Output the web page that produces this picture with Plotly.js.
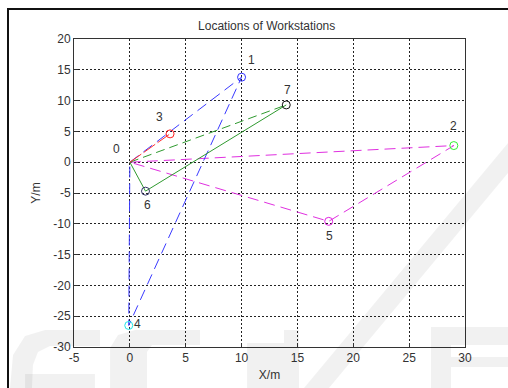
<!DOCTYPE html>
<html>
<head>
<meta charset="utf-8">
<script src="https://cdn.plot.ly/plotly-3.0.1.min.js"></script>
<style>
  html, body { margin: 0; padding: 0; background: #fff; }
  #wrap { position: relative; width: 508px; height: 388px; overflow: hidden; }
  #chart { position: absolute; left: 0; top: 0; width: 508px; height: 388px; }
  #frame { position: absolute; left: 7px; top: 8px; width: 600px; height: 500px;
           border-left: 2px solid #111; border-top: 2px solid #111; pointer-events: none; }
</style>
</head>
<body>
<div id="wrap">
  <div id="chart"></div>
  <div id="frame"></div>
</div>
<script>
// Workstation data (index = station number)
const stationNames = ['0', '1', '2', '3', '4', '5', '6', '7'];
const stationX = [0, 10, 29, 3.6, -0.1, 17.8, 1.4, 14];
const stationY = [0, 13.8, 2.7, 4.6, -26.5, -9.6, -4.7, 9.3];

// Routes (sequences of station indices)
const routeBlue = [0, 1, 4, 0];
const routeRed = [0, 3];
const routeGreenDashed = [0, 7];
const routeGreenSolid = [0, 6, 7];
const routeMagenta = [0, 2, 5, 0];

const xTicks = [-5, 0, 5, 10, 15, 20, 25, 30];
const yTicks = [-30, -25, -20, -15, -10, -5, 0, 5, 10, 15, 20];

// styles
const markerColors = ['#ff0000', '#3030ff', '#33ee33', '#ff2020', '#22e6e6', '#e020e0', '#333366', '#111111'];
const labelShift = [[-13, 13], [10, 17], [0, 20], [-11, 17], [9, 1], [1, -15], [2, -14], [1, 15]];
const FONT = 'Liberation Sans, Arial, sans-serif';

function routeTrace(route, color, dash) {
  return {
    type: 'scatter', mode: 'lines',
    x: route.map(i => stationX[i]),
    y: route.map(i => stationY[i]),
    line: {color: color, width: 1, dash: dash},
    hoverinfo: 'skip', showlegend: false
  };
}

const traces = [
  routeTrace(routeMagenta, '#e030e0', '11px,6px'),
  routeTrace(routeBlue, '#3a3aff', '11px,6px'),
  routeTrace(routeGreenDashed, '#2f9a2f', '9px,5px'),
  routeTrace(routeGreenSolid, '#2f9a2f', 'solid'),
  routeTrace(routeRed, '#ff3030', '14px,3px'),
  {
    type: 'scatter', mode: 'markers',
    x: stationX.slice(1), y: stationY.slice(1),
    marker: {symbol: 'circle-open', size: 8, color: markerColors.slice(1), line: {width: 1}},
    hoverinfo: 'skip', showlegend: false
  }
];

const annotations = stationNames.map((n, i) => ({
  x: stationX[i], y: stationY[i], xref: 'x', yref: 'y',
  text: n, showarrow: false,
  xshift: labelShift[i][0], yshift: labelShift[i][1],
  font: {family: FONT, size: 12, color: '#333'}
}));

// faint background watermark (decorative), drawn in pixel space -> paper coords
const M = {l: 74, r: 43, t: 39, b: 41}, W = 508, H = 388;
const pw = W - M.l - M.r, ph = H - M.t - M.b;
function poly(pts) {
  return 'M ' + pts.map(p => ((p[0] - M.l) / pw).toFixed(4) + ',' + ((H - M.b - p[1]) / ph).toFixed(4)).join(' L ') + ' Z';
}
const wm = [
  [[10,388],[13,355],[25,336],[45,330],[100,330],[100,346],[50,346],[38,352],[33,365],[32,388]],
  [[25,374],[95,374],[95,388],[25,388]],
  [[110,388],[110,348],[118,335],[135,330],[200,330],[200,345],[152,345],[147,352],[147,388]],
  [[247,343],[284,343],[284,388],[247,388]],
  [[284,330],[299,330],[299,388],[284,388]],
  [[304,388],[329,388],[508,173],[508,143]],
  [[431,327],[508,327],[508,345],[451,345],[451,357],[508,357],[508,367],[451,367],[451,388],[431,388]]
];
const shapes = wm.map(p => ({
  type: 'path', xref: 'paper', yref: 'paper', path: poly(p),
  fillcolor: 'rgba(0,0,0,0.055)', line: {width: 0}, layer: 'above'
}));

const axisCommon = {
  showline: true, mirror: true, linecolor: '#333', linewidth: 1,
  ticks: 'inside', ticklen: 4, tickcolor: '#333',
  showgrid: true, gridcolor: '#222', gridwidth: 1, griddash: '2px,2px',
  zeroline: false,
  tickfont: {family: FONT, size: 12, color: '#333'}
};

const layout = {
  width: W, height: H,
  margin: M,
  paper_bgcolor: 'rgba(0,0,0,0)', plot_bgcolor: 'rgba(0,0,0,0)',
  title: {
    text: 'Locations of Workstations', x: 0.525, xanchor: 'center',
    y: 1 - 26 / 388, yanchor: 'middle',
    font: {family: FONT, size: 12, color: '#333'}
  },
  xaxis: Object.assign({}, axisCommon, {
    range: [-5, 30], tickvals: xTicks, ticktext: xTicks.map(String),
    title: {text: 'X/m', standoff: 6, font: {family: FONT, size: 12, color: '#333'}}
  }),
  yaxis: Object.assign({}, axisCommon, {
    range: [-30, 20], tickvals: yTicks, ticktext: yTicks.map(String),
    title: {text: 'Y/m', standoff: 10, font: {family: FONT, size: 12, color: '#333'}}
  }),
  annotations: annotations,
  shapes: shapes,
  showlegend: false
};

Plotly.newPlot('chart', traces, layout, {displayModeBar: false, staticPlot: true});
</script>
</body>
</html>
